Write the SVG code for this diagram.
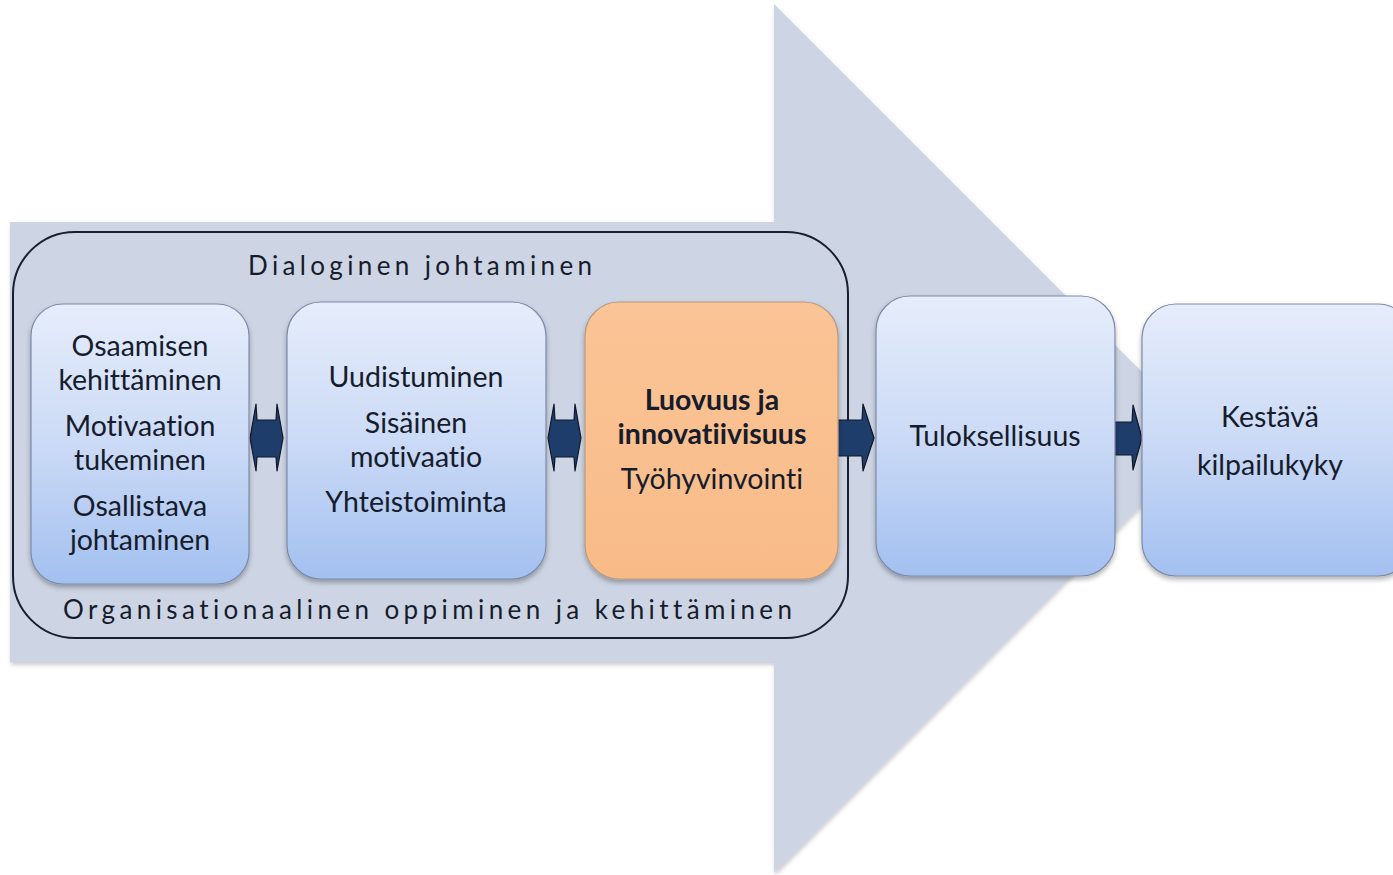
<svg xmlns="http://www.w3.org/2000/svg" width="1393" height="875" viewBox="0 0 1393 875">
  <defs>
    <linearGradient id="blueGrad" x1="0" y1="0" x2="0" y2="1">
      <stop offset="0" stop-color="#e6edfb"/>
      <stop offset="0.5" stop-color="#cbdaf6"/>
      <stop offset="1" stop-color="#a3c0f0"/>
    </linearGradient>
    <linearGradient id="orangeGrad" x1="0" y1="0" x2="0" y2="1">
      <stop offset="0" stop-color="#fbc496"/>
      <stop offset="1" stop-color="#f8bb88"/>
    </linearGradient>
    <filter id="shadow" x="-10%" y="-10%" width="130%" height="130%">
      <feDropShadow dx="0" dy="3" stdDeviation="2.5" flood-color="#000" flood-opacity="0.3"/>
    </filter>
    <filter id="bigShadow" x="-5%" y="-5%" width="115%" height="115%">
      <feDropShadow dx="1" dy="3" stdDeviation="2" flood-color="#6a7080" flood-opacity="0.35"/>
    </filter>
  </defs>
  <style>
    .box { fill: url(#blueGrad); stroke: #7d8aa8; stroke-width: 1.2; filter: url(#shadow); }
    .obox { fill: url(#orangeGrad); stroke: #b89a82; stroke-width: 1.2; filter: url(#shadow); }
    .t { font-family: Lato, "Open Sans", "Liberation Sans", sans-serif; font-size: 28.5px; fill: #161c2b; text-anchor: middle; font-variant-ligatures: none; }
    .b { font-weight: bold; }
    .lbl { font-family: Lato, "Open Sans", "Liberation Sans", sans-serif; font-size: 26px; fill: #161c2b; font-variant-ligatures: none; }
    .conn { fill: #1f3d6b; stroke: #101828; stroke-width: 1.2; stroke-linejoin: round; }
  </style>
  <rect width="1393" height="875" fill="#ffffff"/>

  <g id="big-arrow">
    <polygon points="10,222 774,222 774,4 1208,438 774,873 774,662 10,662" fill="#cdd5e4" filter="url(#bigShadow)"/>
  </g>

  <g id="container">
    <rect x="13" y="232" width="835" height="406" rx="62" ry="62" fill="none" stroke="#1a1f2c" stroke-width="2"/>
    <text class="lbl" x="248" y="275" textLength="344" lengthAdjust="spacing">Dialoginen johtaminen</text>
    <text class="lbl" x="63" y="619" textLength="729" lengthAdjust="spacing">Organisationaalinen oppiminen ja kehittäminen</text>
  </g>

  <g id="connectors">
    <polygon class="conn" points="250,438 256,404 257,420 276,420 277,404 283,438 277,471 276,457 257,457 256,471"/>
    <polygon class="conn" points="548,438 554,404 555,420 574,420 575,404 581,438 575,471 574,457 555,457 554,471"/>
    <polygon class="conn" points="832,420 862,420 863,404 874,438 863,471 862,456 832,456"/>
    <polygon class="conn" points="1115,422 1132,422 1133,405 1142,438 1133,470 1132,455 1115,455"/>
  </g>

  <g id="node-osaaminen">
    <rect class="box" x="31" y="304" width="218" height="280" rx="32" ry="32"/>
    <text class="t" x="140" y="356">Osaamisen</text>
    <text class="t" x="140" y="390">kehittäminen</text>
    <text class="t" x="140" y="436">Motivaation</text>
    <text class="t" x="140" y="470">tukeminen</text>
    <text class="t" x="140" y="516">Osallistava</text>
    <text class="t" x="140" y="550">johtaminen</text>
  </g>

  <g id="node-uudistuminen">
    <rect class="box" x="287" y="302" width="259" height="277" rx="34" ry="34"/>
    <text class="t" x="416" y="387">Uudistuminen</text>
    <text class="t" x="416" y="433">Sisäinen</text>
    <text class="t" x="416" y="467">motivaatio</text>
    <text class="t" x="416" y="512">Yhteistoiminta</text>
  </g>

  <g id="node-luovuus">
    <rect class="obox" x="585" y="302" width="253" height="277" rx="34" ry="34"/>
    <text class="t b" x="712" y="410">Luovuus ja</text>
    <text class="t b" x="712" y="444">innovatiivisuus</text>
    <text class="t" x="712" y="489">Työhyvinvointi</text>
  </g>

  <g id="node-tuloksellisuus">
    <rect class="box" x="876" y="296" width="239" height="280" rx="34" ry="34"/>
    <text class="t" x="995" y="446">Tuloksellisuus</text>
  </g>

  <g id="node-kestava">
    <rect class="box" x="1142" y="304" width="270" height="272" rx="34" ry="34"/>
    <text class="t" x="1270" y="427">Kestävä</text>
    <text class="t" x="1270" y="475">kilpailukyky</text>
  </g>
</svg>
